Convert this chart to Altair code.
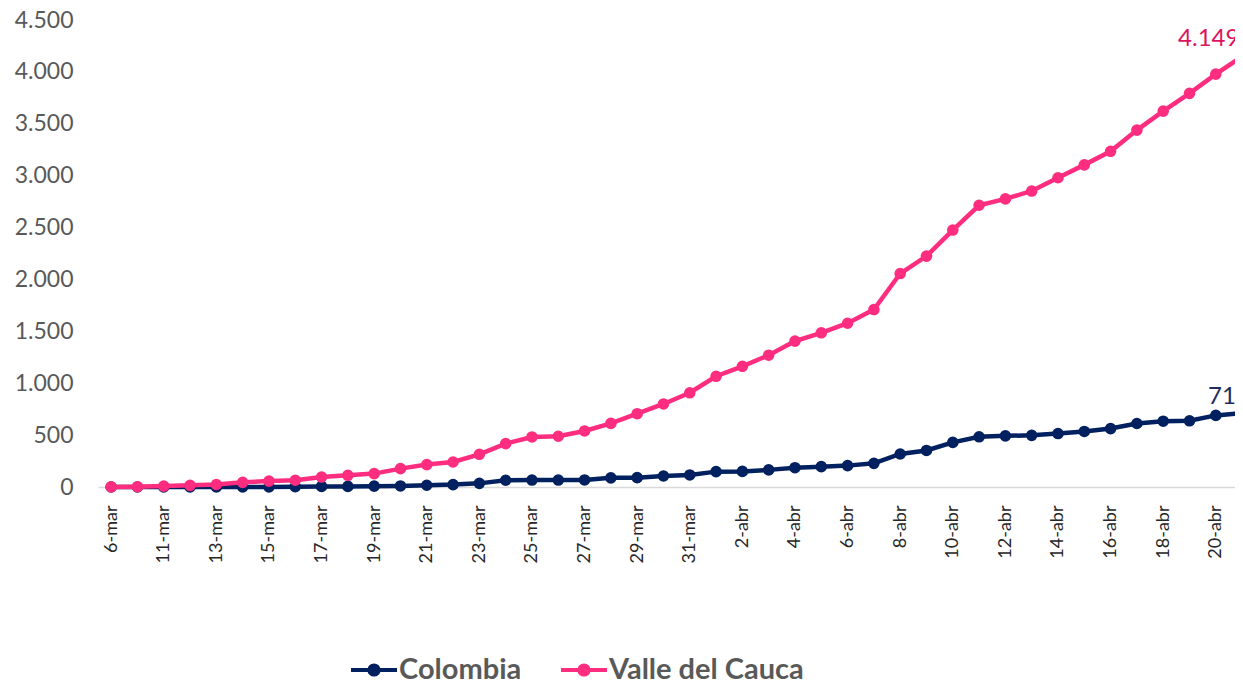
import altair as alt
import pandas as pd

# ---- data ----
dates = ["6-mar", "9-mar", "11-mar", "12-mar", "13-mar", "14-mar", "15-mar", "16-mar",
         "17-mar", "18-mar", "19-mar", "20-mar", "21-mar", "22-mar", "23-mar", "24-mar",
         "25-mar", "26-mar", "27-mar", "28-mar", "29-mar", "30-mar", "31-mar",
         "1-abr", "2-abr", "3-abr", "4-abr", "5-abr", "6-abr", "7-abr", "8-abr", "9-abr",
         "10-abr", "11-abr", "12-abr", "13-abr", "14-abr", "15-abr", "16-abr", "17-abr",
         "18-abr", "19-abr", "20-abr", "21-abr"]

colombia = [0, 0, 0, 0, 0, 1, 1, 3, 5, 6, 8, 10, 17, 23, 35, 65, 67, 67, 68, 88,
            90, 106, 116, 148, 150, 165, 186, 196, 206, 228, 318, 352, 430, 484, 493,
            498, 515, 535, 563, 612, 634, 638, 690, 713]

valle = [1, 3, 9, 16, 24, 45, 57, 65, 96, 113, 129, 177, 216, 241, 315, 418, 482, 489,
         540, 613, 706, 800, 908, 1067, 1163, 1270, 1406, 1486, 1578, 1710, 2057, 2225,
         2476, 2715, 2776, 2852, 2980, 3104, 3235, 3439, 3622, 3793, 3978, 4149]

series_names = ["Colombia", "Valle del Cauca"]
series_colors = ["#002060", "#FF2D7F"]
label_colors = ["#1F2D5E", "#DC145F"]
y_ticks = list(range(0, 4501, 500))
x_label_idx = list(range(0, len(dates) - 1, 2))

rows = []
for name, vals in zip(series_names, [colombia, valle]):
    for i, (d, v) in enumerate(zip(dates, vals)):
        rows.append({"idx": i, "fecha": d, "serie": name, "casos": v})
df = pd.DataFrame(rows)

FONT = "Lato"
label_expr = "[" + ",".join("'%s'" % d for d in dates) + "][datum.value]"
num_expr = "replace(format(datum.value, ','), ',', '.')"

x = alt.X(
    "idx:Q",
    scale=alt.Scale(domain=[-0.5, 42.73], nice=False, zero=False),
    axis=alt.Axis(values=x_label_idx, labelExpr=label_expr, labelAngle=270,
                  ticks=False, tickSize=0, labelPadding=18, labelFontSize=18,
                  labelColor="#262626", labelFont=FONT, domainColor="#D9D9D9",
                  domainWidth=1.5, grid=False, labelOverlap=False, labelFlush=False,
                  title=None),
)
y = alt.Y(
    "casos:Q",
    scale=alt.Scale(domain=[0, 4500], nice=False),
    axis=alt.Axis(values=y_ticks, labelExpr=num_expr, domain=False, ticks=False,
                  tickSize=0, grid=False, labelPadding=25, labelFontSize=23,
                  labelColor="#595959", labelFont=FONT, title=None),
)

legend_symbol = "M-1,0L1,0M0.2,0A0.2,0.2,0,1,1,-0.2,0A0.2,0.2,0,1,1,0.2,0Z"
color = alt.Color(
    "serie:N",
    scale=alt.Scale(domain=series_names, range=series_colors),
    legend=alt.Legend(title=None, orient="none", legendX=251, legendY=625,
                      direction="horizontal", symbolType=legend_symbol,
                      symbolSize=2116, symbolStrokeWidth=4, labelFont=FONT,
                      labelFontSize=29, labelFontWeight="bold", labelColor="#595959",
                      labelOffset=0, columnPadding=31, labelLimit=400),
)

base = alt.Chart(df)
layers = []
for name in series_names:
    sub = base.transform_filter(alt.datum.serie == name)
    layers.append(sub.mark_line(strokeWidth=4.5).encode(x=x, y=y, color=color))
    layers.append(sub.mark_point(filled=True, size=135, opacity=1).encode(x=x, y=y, color=color))

last = len(dates) - 1
label_offsets = {"Colombia": (-34, -16), "Valle del Cauca": (-64, -17)}
for name, lc in zip(series_names, label_colors):
    dx, dy = label_offsets[name]
    layers.append(
        base.transform_filter((alt.datum.serie == name) & (alt.datum.idx == last))
        .transform_calculate(lbl="replace(format(datum.casos, ','), ',', '.')")
        .mark_text(align="left", baseline="middle", dx=dx, dy=dy, font=FONT,
                   fontSize=24, color=lc)
        .encode(x=x, y=y, text="lbl:N")
    )

chart = (
    alt.layer(*layers)
    .properties(width=1137, height=467,
                autosize=alt.AutoSizeParams(type="none"),
                padding={"left": 90, "top": 12, "right": 0, "bottom": 195},
                background="white")
    .configure_view(stroke=None)
)

chart.save("out.html", embed_options={"renderer": "svg", "actions": False})
